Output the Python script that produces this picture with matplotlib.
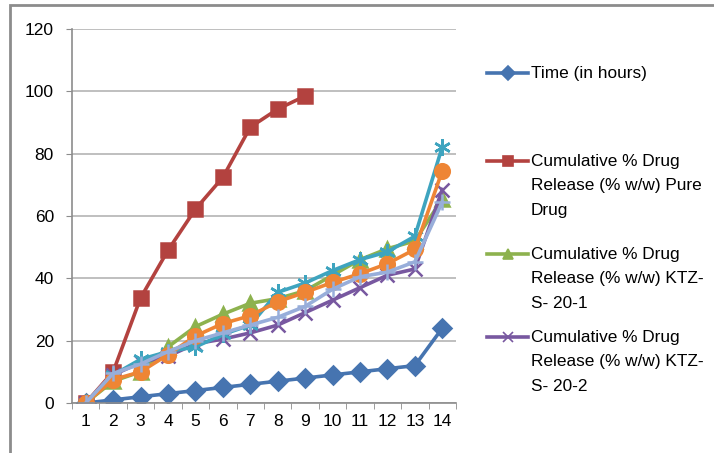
import matplotlib
matplotlib.use("Agg")
from matplotlib import pyplot as plt
from matplotlib.lines import Line2D
from matplotlib.patches import Rectangle

plt.rcParams['font.family'] = ['Liberation Sans', 'DejaVu Sans']

x = list(range(1, 15))
time_h = [0, 1, 2, 3, 4, 5, 6, 7, 8, 9, 10, 11, 12, 24]
pure = [0, 10, 33.7, 49, 62.2, 72.4, 88.5, 94.3, 98.5]
ktz1 = [0, 7, 10, 18, 24.5, 28.5, 32, 33.5, 36, 41, 46, 49.5, 52, 65.5]
ktz2 = [0, 9, 13, 15, 19, 20.5, 22.5, 25, 29, 33, 37, 41, 43, 68.5]
ktz3 = [0, 9, 14, 16.5, 18, 22, 25, 35.5, 38.5, 42.5, 46, 48.5, 53.5, 82.2]
ktz4 = [0, 7.5, 10, 15.5, 21.5, 25.5, 28, 32.5, 35.5, 38.7, 41.5, 44.7, 49.3, 74.5]
ktz5 = [0, 9.5, 12.5, 16.5, 20, 22.5, 25, 27.5, 31, 36.5, 40.5, 42, 45.3, 64.5]

labels = ['Time (in hours)',
          'Cumulative % Drug\nRelease (% w/w) Pure\nDrug',
          'Cumulative % Drug\nRelease (% w/w) KTZ-\nS- 20-1',
          'Cumulative % Drug\nRelease (% w/w) KTZ-\nS- 20-2']

fig = plt.figure(figsize=(7.14, 4.53), dpi=100)
ax = fig.add_axes([72 / 714, 50 / 453, 384 / 714, 374 / 453])

series = [
    (time_h, '#4674B0', 'D', 9),
    (pure, '#B3423F', 's', 9.5),
    (ktz1, '#8DB24E', '^', 9.5),
    (ktz2, '#7858A0', 'x', 10),
    (ktz3, '#3EA4BF', (6, 2, 0), 12),
    (ktz4, '#EE8535', 'o', 10.5),
    (ktz5, '#98AEDA', '+', 12),
]
for ys, col, mk, ms in series:
    ax.plot(x[:len(ys)], ys, color=col, lw=2.6, marker=mk, ms=ms,
            mec=col, mfc=col, mew=1.8)

ax.set_xlim(0.5, 14.5)
ax.set_ylim(0, 120)
ax.set_yticks(range(0, 121, 20))
ax.set_xticks(x)
ax.set_xticks([i + 0.5 for i in range(0, 15)], minor=True)
ax.yaxis.grid(True, color='#B4B4B4', lw=1.2)
ax.set_axisbelow(True)
for s in ['top', 'right']:
    ax.spines[s].set_visible(False)
for s in ['left', 'bottom']:
    ax.spines[s].set_color('#8C8C8C')
    ax.spines[s].set_linewidth(1.2)
ax.tick_params(axis='y', length=4, color='#8C8C8C', labelsize=12.5, pad=9)
ax.tick_params(axis='x', which='major', length=0, labelsize=12.5, pad=8)
ax.tick_params(axis='x', which='minor', length=4.5, color='#8C8C8C')

# legend drawn by hand (only the first four series appear)
leg_y = [73, 161, 254, 337]
for (ys, col, mk, ms), lab, yy in zip(series[:4], labels, leg_y):
    fy = 1 - yy / 453
    fig.add_artist(Line2D([487 / 714, 528 / 714], [fy, fy], color=col, lw=2.6,
                          transform=fig.transFigure))
    fig.add_artist(Line2D([507.5 / 714], [fy], color=col, marker=mk,
                          ms=ms * 0.75, mec=col, mfc=col, mew=1.2,
                          transform=fig.transFigure))
    fig.text(531 / 714, fy + 7 / 453, lab, fontsize=12.4, va='top', ha='left',
             linespacing=1.78)

fig.add_artist(Rectangle((10 / 714, -0.1), 1.0, 1 - 5 / 453 + 0.1,
                         transform=fig.transFigure, fill=False,
                         edgecolor='#8C8C8C', lw=2))

fig.savefig('out.png', dpi=100)
